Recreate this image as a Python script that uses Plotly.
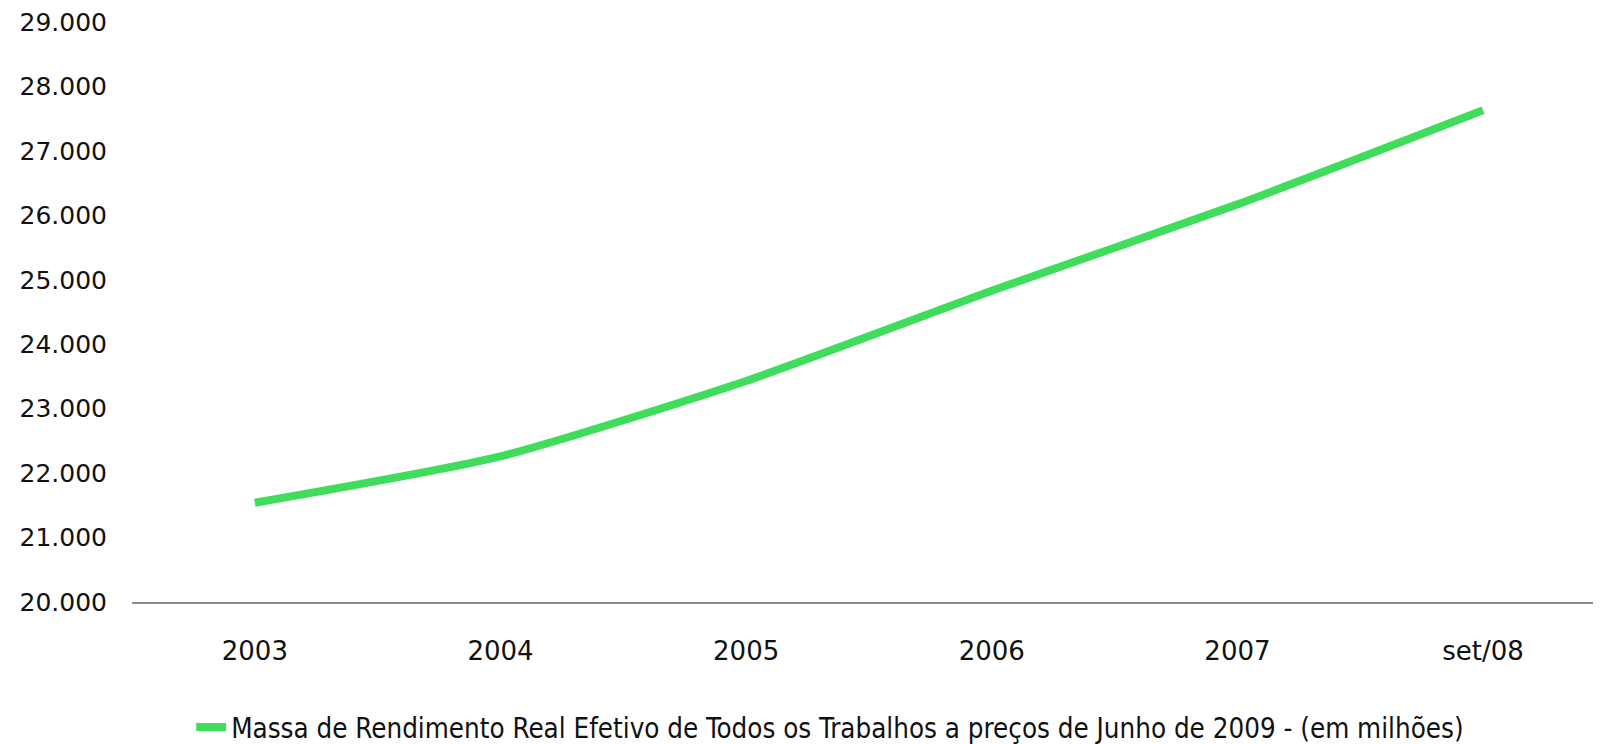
import plotly.graph_objects as go

categories = ["2003", "2004", "2005", "2006", "2007", "set/08"]
values = [21540, 22260, 23430, 24830, 26170, 27630]
y_ticks = [20000, 21000, 22000, 23000, 24000, 25000, 26000, 27000, 28000, 29000]
y_tick_text = ["20.000", "21.000", "22.000", "23.000", "24.000", "25.000", "26.000", "27.000", "28.000", "29.000"]
series_name = "Massa de Rendimento Real Efetivo de Todos os Trabalhos a preços de Junho de 2009 - (em milhões)"

fig = go.Figure()
fig.add_trace(go.Scatter(
    x=list(range(len(categories))), y=values, mode="lines", name=series_name,
    line=dict(color="#40DC5C", width=8, shape="spline", smoothing=0.6),
))

fig.update_layout(
    width=1593, height=736,
    margin=dict(l=124, r=0, t=14, b=142, autoexpand=False),
    paper_bgcolor="white", plot_bgcolor="white",
    showlegend=True,
    legend=dict(orientation="h", xref="container", yref="container",
                x=0.115, xanchor="left", y=0.023, yanchor="middle",
                font=dict(family="Liberation Sans Narrow, DejaVu Sans Condensed, sans-serif", size=27.5, color="#111111"),
                itemwidth=30, bgcolor="rgba(0,0,0,0)"),
    xaxis=dict(range=[-0.5, 5.48], tickvals=list(range(len(categories))), ticktext=categories,
               showgrid=False, zeroline=False, showline=True, linecolor="#8a8a8a", linewidth=2,
               ticks="", ticklabelstandoff=25, tickangle=0, automargin=False,
               ticklabeloverflow="allow",
               tickfont=dict(family="DejaVu Sans", size=26, color="#111111")),
    yaxis=dict(range=[20000, 29000], tickvals=y_ticks, ticktext=y_tick_text,
               showgrid=False, zeroline=False, showline=False, ticks="",
               ticklabelstandoff=24, automargin=False, ticklabeloverflow="allow",
               tickfont=dict(family="DejaVu Sans", size=25, color="#111111")),
)

fig.write_html("out.html")
